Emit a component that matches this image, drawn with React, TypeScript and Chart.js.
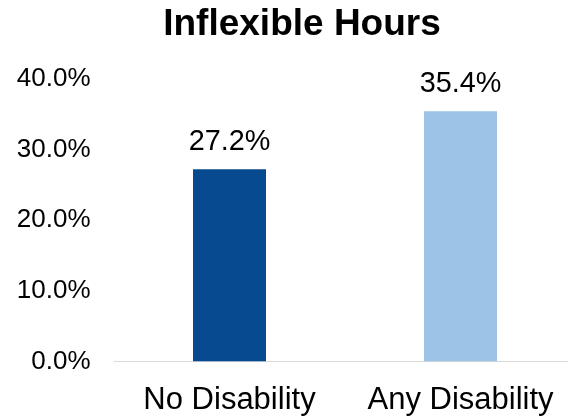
import React, { useEffect, useRef } from "react";
import { Chart, registerables } from "chart.js";

Chart.register(...registerables);

const chartTitle = "Inflexible Hours";
const categories = ["No Disability", "Any Disability"];
const values = [27.2, 35.4];
const barColors = ["#074A8F", "#9DC3E6"];
const yMin = 0;
const yMax = 40;
const yStep = 10;

const FONT = "'Liberation Sans', Arial, sans-serif";

const valueLabels = {
  id: "valueLabels",
  afterDatasetsDraw(chart: any) {
    const ctx = chart.ctx;
    const meta = chart.getDatasetMeta(0);
    ctx.save();
    ctx.font = `28.8px ${FONT}`;
    ctx.fillStyle = "#000";
    ctx.textAlign = "center";
    ctx.textBaseline = "middle";
    meta.data.forEach((bar: any, i: number) => {
      ctx.fillText(values[i].toFixed(1) + "%", bar.x, bar.y - 27);
    });
    ctx.restore();
  },
};

export default function App() {
  const ref = useRef<HTMLCanvasElement>(null);
  useEffect(() => {
    if (!ref.current) return;
    const chart = new Chart(ref.current, {
      type: "bar",
      data: {
        labels: categories,
        datasets: [
          {
            data: values,
            backgroundColor: barColors,
            borderWidth: 0,
            categoryPercentage: 1,
            barPercentage: 0.316,
            yAxisID: "y",
          },
        ],
      },
      options: {
        animation: false,
        responsive: false,
        layout: { padding: 0 },
        plugins: {
          legend: { display: false },
          tooltip: { enabled: false },
          title: {
            display: true,
            text: chartTitle,
            color: "#000",
            font: { family: FONT, size: 37, weight: "bold" },
            padding: { top: 3, bottom: 31.3 },
          },
        },
        scales: {
          x: {
            grid: { display: false, drawTicks: false },
            border: { display: true, color: "#D9D9D9", width: 1 },
            ticks: { color: "#000", font: { family: FONT, size: 31 }, padding: 20.5 },
            afterFit: (s: any) => {
              s.height = 54.5;
            },
          },
          y: {
            position: "left",
            min: yMin,
            max: yMax,
            grid: { display: false, drawTicks: false },
            border: { display: false },
            ticks: {
              stepSize: yStep,
              color: "#000",
              font: { family: FONT, size: 26 },
              padding: 23.5,
              callback: (v: any) => Number(v).toFixed(1) + "%",
            },
            afterFit: (s: any) => {
              s.width = 114;
            },
          },
          yRight: {
            position: "right",
            display: true,
            min: yMin,
            max: yMax,
            grid: { display: false, drawTicks: false },
            border: { display: false },
            ticks: { display: false },
            afterFit: (s: any) => {
              s.width = 28;
            },
          },
        },
      },
      plugins: [valueLabels],
    });
    return () => chart.destroy();
  }, []);
  return (
    <div
      style={{
        position: "fixed",
        left: 0,
        top: 0,
        width: 568,
        height: 416,
        overflow: "hidden",
        background: "#fff",
      }}
    >
      <canvas ref={ref} width={604} height={416} style={{ width: 604, height: 416, display: "block" }} />
    </div>
  );
}
